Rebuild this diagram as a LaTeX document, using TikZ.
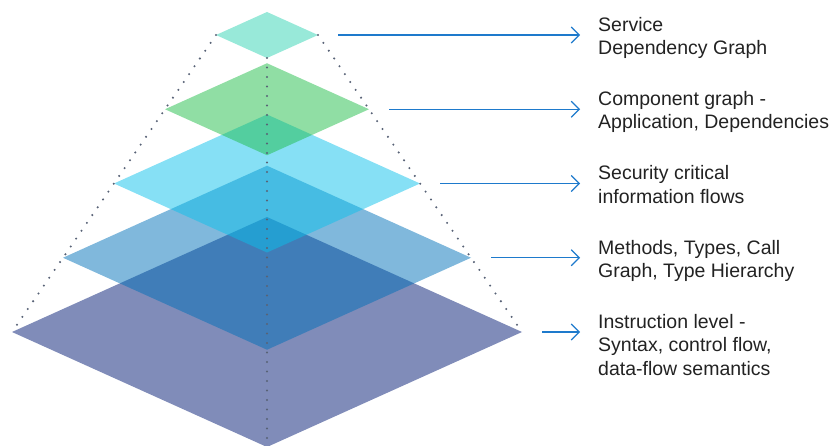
\documentclass[tikz,border=0pt]{standalone}
\usepackage{fontspec}
\setmainfont{Liberation Sans}
\usetikzlibrary{shapes.geometric,arrows.meta}

\definecolor{lyrteal}{RGB}{49,211,179}
\definecolor{lyrgreen}{RGB}{33,189,73}
\definecolor{lyrcyan}{RGB}{13,193,235}
\definecolor{lyrblue}{RGB}{1,113,185}
\definecolor{lyrnavy}{RGB}{1,25,115}
\definecolor{dotgray}{RGB}{88,98,118}
\definecolor{flowblue}{RGB}{30,122,204}
\definecolor{txtdark}{RGB}{34,34,34}

\tikzset{
  layer/.style={diamond, inner sep=0pt, outer sep=0pt, fill opacity=0.5},
  guide/.style={dotgray, line width=2.3pt, line cap=round, dash pattern=on 0pt off 9.5pt},
  flow/.style={flowblue, line width=1.1pt, -{Straight Barb[length=8pt,width=16pt,line width=1.1pt]}, shorten >=18pt},
  caption/.style={anchor=north west, align=left, inner sep=0pt, text=txtdark,
    font=\fontsize{19.5pt}{23.4pt}\selectfont}
}

\begin{document}
\begin{tikzpicture}[x=1pt, y=-1pt]
\useasboundingbox (0,0) rectangle (838,446);
% layers, widest at the bottom
\node[layer, fill=lyrnavy, minimum width=510pt, minimum height=230pt] (l5) at (267,332) {};
\node[layer, fill=lyrblue, minimum width=408pt, minimum height=184pt] (l4) at (267,257.75) {};
\node[layer, fill=lyrcyan, minimum width=306pt, minimum height=138pt] (l3) at (267,183.5) {};
\node[layer, fill=lyrgreen, minimum width=204pt, minimum height=92pt] (l2) at (267,109.25) {};
\node[layer, fill=lyrteal, minimum width=102pt, minimum height=46pt] (l1) at (267,35) {};
% dotted edges of the pyramid
\draw[guide] (l1.west) -- (l5.west);
\draw[guide] (l1.east) -- (l5.east);
\draw[guide] (l1.south) -- (l5.south);
% captions
\node[caption] (t1) at (598,17) {Service\\Dependency Graph};
\node[caption] (t2) at (598,91.25) {Component graph -\\Application, Dependencies};
\node[caption] (t3) at (598,165.5) {Security critical\\information flows};
\node[caption] (t4) at (598,239.75) {Methods, Types, Call\\Graph, Type Hierarchy};
\node[caption] (t5) at (598,314) {Instruction level -\\Syntax, control flow,\\data-flow semantics};
\draw[flow] ([xshift=20pt]l1.east) -- (l1.east -| t1.west);
\draw[flow] ([xshift=20pt]l2.east) -- (l2.east -| t2.west);
\draw[flow] ([xshift=20pt]l3.east) -- (l3.east -| t3.west);
\draw[flow] ([xshift=20pt]l4.east) -- (l4.east -| t4.west);
\draw[flow] ([xshift=20pt]l5.east) -- (l5.east -| t5.west);
\end{tikzpicture}
\end{document}
